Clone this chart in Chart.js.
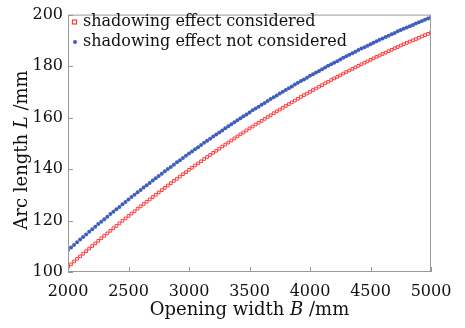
<!DOCTYPE html>
<html lang="en">
<head>
<meta charset="UTF-8">
<title>Arc length vs opening width</title>
<script src="https://cdn.jsdelivr.net/npm/chart.js"></script>
<style>
  html, body { margin: 0; padding: 0; background: #fff; }
</style>
</head>
<body>
<canvas id="arc-chart" width="465" height="328"></canvas>
<script>
  // opening width B (mm)
  const widths = [
    2000, 2025, 2050, 2075, 2100, 2125, 2150, 2175, 2200, 2225, 2250, 2275, 2300, 2325, 2350, 2375,
    2400, 2425, 2450, 2475, 2500, 2525, 2550, 2575, 2600, 2625, 2650, 2675, 2700, 2725, 2750, 2775,
    2800, 2825, 2850, 2875, 2900, 2925, 2950, 2975, 3000, 3025, 3050, 3075, 3100, 3125, 3150, 3175,
    3200, 3225, 3250, 3275, 3300, 3325, 3350, 3375, 3400, 3425, 3450, 3475, 3500, 3525, 3550, 3575,
    3600, 3625, 3650, 3675, 3700, 3725, 3750, 3775, 3800, 3825, 3850, 3875, 3900, 3925, 3950, 3975,
    4000, 4025, 4050, 4075, 4100, 4125, 4150, 4175, 4200, 4225, 4250, 4275, 4300, 4325, 4350, 4375,
    4400, 4425, 4450, 4475, 4500, 4525, 4550, 4575, 4600, 4625, 4650, 4675, 4700, 4725, 4750, 4775,
    4800, 4825, 4850, 4875, 4900, 4925, 4950, 4975, 5000
  ];

  // arc length L (mm), shadowing effect considered
  const considered = [
    102.0, 103.0, 104.1, 105.1, 106.1, 107.1, 108.1, 109.1, 110.1, 111.1, 112.1, 113.1, 114.1, 115.0, 116.0, 117.0,
    117.9, 118.9, 119.9, 120.8, 121.8, 122.7, 123.6, 124.6, 125.5, 126.4, 127.3, 128.2, 129.1, 130.0, 130.9, 131.8,
    132.7, 133.6, 134.5, 135.4, 136.2, 137.1, 138.0, 138.8, 139.7, 140.5, 141.4, 142.2, 143.0, 143.9, 144.7, 145.5,
    146.3, 147.1, 147.9, 148.7, 149.5, 150.3, 151.1, 151.9, 152.7, 153.5, 154.2, 155.0, 155.8, 156.5, 157.3, 158.0,
    158.7, 159.5, 160.2, 160.9, 161.7, 162.4, 163.1, 163.8, 164.5, 165.2, 165.9, 166.6, 167.3, 168.0, 168.7, 169.3,
    170.0, 170.7, 171.3, 172.0, 172.6, 173.3, 173.9, 174.6, 175.2, 175.8, 176.4, 177.1, 177.7, 178.3, 178.9, 179.5,
    180.1, 180.7, 181.3, 181.8, 182.4, 183.0, 183.6, 184.1, 184.7, 185.2, 185.8, 186.3, 186.9, 187.4, 188.0, 188.5,
    189.0, 189.5, 190.0, 190.5, 191.0, 191.5, 192.0, 192.5, 193.0
  ];

  // arc length L (mm), shadowing effect not considered
  const notConsidered = [
    108.5, 109.5, 110.5, 111.6, 112.6, 113.6, 114.6, 115.6, 116.6, 117.6, 118.6, 119.5, 120.5, 121.5, 122.5, 123.4,
    124.4, 125.3, 126.3, 127.2, 128.2, 129.1, 130.0, 131.0, 131.9, 132.8, 133.7, 134.6, 135.5, 136.4, 137.3, 138.2,
    139.1, 140.0, 140.8, 141.7, 142.6, 143.4, 144.3, 145.2, 146.0, 146.8, 147.7, 148.5, 149.3, 150.2, 151.0, 151.8,
    152.6, 153.4, 154.2, 155.0, 155.8, 156.6, 157.4, 158.2, 159.0, 159.7, 160.5, 161.2, 162.0, 162.8, 163.5, 164.2,
    165.0, 165.7, 166.4, 167.2, 167.9, 168.6, 169.3, 170.0, 170.7, 171.4, 172.1, 172.8, 173.5, 174.2, 174.8, 175.5,
    176.2, 176.8, 177.5, 178.1, 178.8, 179.4, 180.1, 180.7, 181.3, 181.9, 182.6, 183.2, 183.8, 184.4, 185.0, 185.6,
    186.2, 186.8, 187.3, 187.9, 188.5, 189.1, 189.6, 190.2, 190.7, 191.3, 191.8, 192.4, 192.9, 193.5, 194.0, 194.5,
    195.0, 195.5, 196.0, 196.5, 197.0, 197.5, 198.0, 198.5, 199.0
  ];

  const xTicks = [2000, 2500, 3000, 3500, 4000, 4500, 5000];
  const yTicks = [100, 120, 140, 160, 180, 200];
  const seriesNames = ['shadowing effect considered', 'shadowing effect not considered'];

  const FONT = '"DejaVu Serif", serif';
  const RED = '#ff3b3b';
  const BLUE = '#3f5fbf';
  const AXIS = '#999';

  // inward ticks, box, legend and the mixed-style axis titles
  const framePlugin = {
    id: 'frame',
    afterDraw(chart) {
      const { ctx, chartArea: a, scales } = chart;
      ctx.save();
      ctx.strokeStyle = AXIS;
      ctx.lineWidth = 1;
      ctx.strokeRect(a.left + 0.5, a.top + 0.5, a.right - a.left - 1, a.bottom - a.top - 1);
      ctx.beginPath();
      xTicks.forEach(v => {
        const px = Math.round(scales.x.getPixelForValue(v)) + 0.5;
        ctx.moveTo(px, a.bottom); ctx.lineTo(px, a.bottom - 5);
      });
      yTicks.forEach(v => {
        const py = Math.round(scales.y.getPixelForValue(v)) + 0.5;
        ctx.moveTo(a.left, py); ctx.lineTo(a.left + 5, py);
      });
      ctx.stroke();

      // legend
      const rows = [22, 42];
      ctx.strokeStyle = RED;
      ctx.lineWidth = 1.2;
      ctx.strokeRect(72.5, rows[0] - 2, 4, 4);
      ctx.fillStyle = BLUE;
      ctx.beginPath(); ctx.arc(75, rows[1], 2, 0, Math.PI * 2); ctx.fill();
      ctx.font = '16px ' + FONT;
      ctx.fillStyle = '#111';
      ctx.textBaseline = 'middle';
      ctx.textAlign = 'left';
      seriesNames.forEach((n, i) => ctx.fillText(n, 83, rows[i]));

      // axis titles
      const drawParts = (parts, cx, cy, rot) => {
        ctx.save();
        ctx.translate(cx, cy);
        ctx.rotate(rot);
        const fonts = parts.map(p => (p.it ? 'italic ' : '') + '18px ' + FONT);
        let total = 0;
        parts.forEach((p, i) => { ctx.font = fonts[i]; total += ctx.measureText(p.t).width; });
        let x = -total / 2;
        parts.forEach((p, i) => {
          ctx.font = fonts[i];
          ctx.fillText(p.t, x, 0);
          x += ctx.measureText(p.t).width;
        });
        ctx.restore();
      };
      ctx.fillStyle = '#111';
      drawParts([{ t: 'Opening width ' }, { t: 'B', it: true }, { t: ' /mm' }], (a.left + a.right) / 2, 310, 0);
      drawParts([{ t: 'Arc length ' }, { t: 'L', it: true }, { t: ' /mm' }], 22, 150, -Math.PI / 2);
      ctx.restore();
    }
  };

  new Chart(document.getElementById('arc-chart'), {
    type: 'scatter',
    data: {
      datasets: [
        {
          label: seriesNames[0],
          data: widths.map((w, i) => ({ x: w, y: considered[i] })),
          pointStyle: 'rect',
          pointRadius: 1.9,
          borderColor: RED,
          borderWidth: 1,
          backgroundColor: 'rgba(0,0,0,0)'
        },
        {
          label: seriesNames[1],
          data: widths.map((w, i) => ({ x: w, y: notConsidered[i] })),
          pointStyle: 'circle',
          pointRadius: 2,
          borderWidth: 0,
          backgroundColor: BLUE
        }
      ]
    },
    options: {
      responsive: false,
      animation: false,
      layout: { padding: { top: 12, right: 34, left: 0, bottom: 0 } },
      plugins: { legend: { display: false }, tooltip: { enabled: false } },
      scales: {
        x: {
          type: 'linear',
          min: 2000, max: 5000,
          afterBuildTicks: s => { s.ticks = xTicks.map(v => ({ value: v })); },
          afterFit: s => { s.height = 56; },
          grid: { display: false, drawTicks: false, tickLength: 0 },
          border: { display: false },
          ticks: { color: '#111', font: { family: FONT, size: 16 }, padding: 10, maxRotation: 0,
                   callback: v => String(v) }
        },
        y: {
          min: 100, max: 200,
          afterBuildTicks: s => { s.ticks = yTicks.map(v => ({ value: v })); },
          afterFit: s => { s.width = 68; },
          grid: { display: false, drawTicks: false, tickLength: 0 },
          border: { display: false },
          ticks: { color: '#111', font: { family: FONT, size: 16 }, padding: 5 }
        }
      }
    },
    plugins: [framePlugin]
  });
</script>
</body>
</html>
